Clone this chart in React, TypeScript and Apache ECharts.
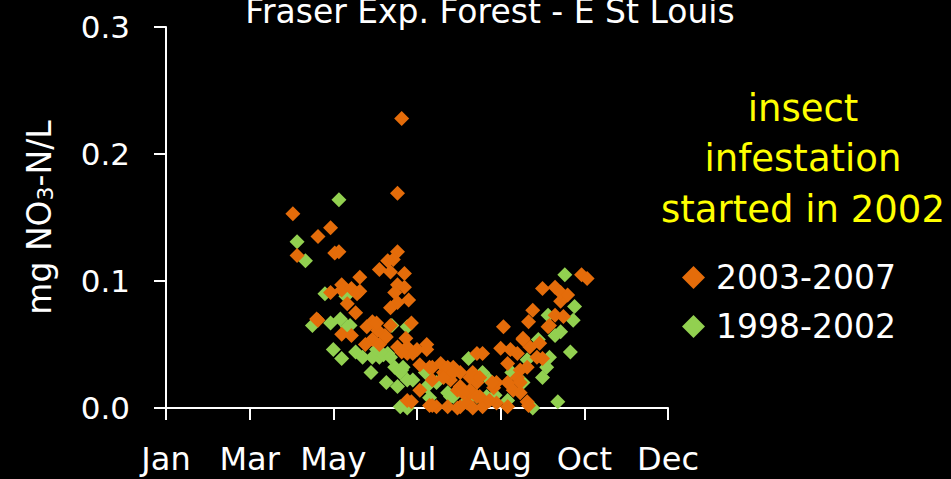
import React, { useEffect, useRef } from "react";
import * as echarts from "echarts";

// Day of year (x) and mg NO3-N/L (y)
const series2003_2007: [number, number][] = [
  [91, 0.153], [94, 0.12], [109, 0.135], [118, 0.142], [121, 0.122], [124, 0.123], [109, 0.069],
  [169, 0.228], [166, 0.169], [166, 0.123], [163, 0.117], [159, 0.116], [153, 0.109], [161, 0.107],
  [171, 0.106], [139, 0.103], [126, 0.097], [126, 0.093], [118, 0.091], [133, 0.094], [137, 0.09],
  [139, 0.092], [166, 0.097], [171, 0.095], [164, 0.091], [174, 0.085], [166, 0.083], [161, 0.079],
  [130, 0.082], [136, 0.075], [108, 0.07], [126, 0.058], [133, 0.057], [144, 0.064], [148, 0.068],
  [152, 0.061], [157, 0.057], [161, 0.065], [148, 0.054], [153, 0.05], [143, 0.05], [151, 0.067],
  [158, 0.056], [176, 0.067], [172, 0.055], [173, 0.043], [180, 0.046], [187, 0.046], [182, 0.034],
  [191, 0.032], [199, 0.028], [206, 0.032], [211, 0.028], [223, 0.043], [220, 0.028], [176, 0.005],
  [173, 0.006], [189, 0.002], [194, 0.001], [202, 0.001], [209, 0.0], [216, 0.004], [220, 0.0],
  [211, 0.017], [218, 0.014], [223, 0.02], [204, 0.022], [182, 0.014], [199, 0.024], [191, 0.002],
  [211, 0.001], [227, 0.001], [237, 0.004], [245, 0.001], [191, 0.022], [209, 0.014], [218, 0.012],
  [225, 0.009], [235, 0.016], [189, 0.032], [197, 0.035], [204, 0.03], [218, 0.024], [173, 0.048],
  [187, 0.05], [177, 0.043], [225, 0.024], [263, 0.077], [283, 0.084], [279, 0.073], [285, 0.072],
  [275, 0.065], [260, 0.068], [242, 0.064], [256, 0.055], [261, 0.048], [268, 0.051], [266, 0.04],
  [270, 0.039], [240, 0.047], [247, 0.046], [252, 0.043], [227, 0.043], [245, 0.035], [254, 0.03],
  [259, 0.032], [237, 0.02], [245, 0.02], [249, 0.014], [254, 0.012], [259, 0.005], [298, 0.105],
  [302, 0.102], [270, 0.094], [279, 0.095], [283, 0.091], [288, 0.089], [274, 0.064], [256, 0.054],
  [252, 0.024], [254, 0.02], [232, 0.006], [223, 0.009], [213, 0.012], [234, 0.02], [260, 0.002],
  [202, 0.032], [206, 0.028], [166, 0.048], [169, 0.044],
];

const series1998_2002: [number, number][] = [
  [124, 0.164], [94, 0.131], [100, 0.116], [114, 0.09], [129, 0.088], [105, 0.065], [118, 0.067],
  [125, 0.07], [130, 0.064], [132, 0.065], [126, 0.039], [136, 0.044], [141, 0.04], [148, 0.04],
  [153, 0.04], [159, 0.043], [147, 0.028], [164, 0.032], [168, 0.028], [158, 0.02], [166, 0.017],
  [168, 0.001], [173, 0.0], [162, 0.065], [173, 0.064], [151, 0.046], [156, 0.042], [161, 0.04],
  [169, 0.03], [177, 0.022], [187, 0.017], [194, 0.02], [202, 0.012], [206, 0.009], [223, 0.009],
  [217, 0.039], [293, 0.08], [292, 0.069], [283, 0.06], [290, 0.044], [273, 0.032], [270, 0.024],
  [227, 0.028], [232, 0.022], [256, 0.02], [263, 0.0], [281, 0.005], [286, 0.105], [274, 0.073],
  [275, 0.04], [170, 0.032], [173, 0.022], [189, 0.008], [204, 0.009], [216, 0.006], [230, 0.009],
  [245, 0.006], [120, 0.046], [200, 0.026], [186, 0.028], [236, 0.01], [248, 0.028], [259, 0.038],
  [267, 0.054], [279, 0.057],
];

const monthTickLabels = ["Jan", "Mar", "May", "Jul", "Aug", "Oct", "Dec"];
const seriesNames = ["2003-2007", "1998-2002"];
const titleText = "Fraser Exp. Forest - E St Louis";
const noteLines = ["insect", "infestation", "started in 2002"];

const FONT = "DejaVu Sans";

export default function App() {
  const ref = useRef<HTMLDivElement>(null);
  useEffect(() => {
    if (!ref.current) return;
    const chart = echarts.init(ref.current, null, { renderer: "svg" });
    chart.setOption({
      animation: false,
      backgroundColor: "#000000",
      grid: { left: 166, right: 283, top: 27, bottom: 71 },
      xAxis: {
        type: "value",
        min: 0,
        max: 360,
        interval: 60,
        splitLine: { show: false },
        axisLine: { lineStyle: { color: "#ffffff", width: 2 } },
        axisTick: { length: 12, lineStyle: { color: "#ffffff", width: 2 } },
        axisLabel: {
          color: "#ffffff",
          fontSize: 32,
          fontFamily: FONT,
          margin: 35,
          formatter: (v: number) => monthTickLabels[Math.round(v / 60)] ?? "",
        },
      },
      yAxis: {
        type: "value",
        min: 0,
        max: 0.3,
        interval: 0.1,
        splitLine: { show: false },
        axisLine: { show: true, lineStyle: { color: "#ffffff", width: 2 } },
        axisTick: { show: true, length: 12, lineStyle: { color: "#ffffff", width: 2 } },
        axisLabel: {
          color: "#ffffff",
          fontSize: 31,
          fontFamily: FONT,
          margin: 36,
          formatter: (v: number) => v.toFixed(1),
        },
        name: "mg NO{sub|3}-N/L",
        nameLocation: "middle",
        nameRotate: 90,
        nameGap: 110,
        nameTextStyle: {
          color: "#ffffff",
          fontSize: 33,
          fontFamily: FONT,
          lineHeight: 33,
          rich: {
            sub: { fontSize: 22, fontFamily: FONT, color: "#ffffff", verticalAlign: "bottom", lineHeight: 12 },
          },
        },
      },
      legend: {
        data: [seriesNames[0], seriesNames[1]],
        orient: "vertical",
        left: 682,
        top: 261,
        padding: 0,
        itemWidth: 23,
        itemHeight: 23,
        itemGap: 16,
        icon: "diamond",
        textStyle: { color: "#ffffff", fontSize: 33, fontFamily: FONT, padding: [0, 0, 0, 6] },
      },
      graphic: [
        {
          type: "text",
          x: 490,
          y: 11,
          style: {
            text: titleText,
            fill: "#ffffff",
            fontSize: 33,
            fontFamily: FONT,
            align: "center",
            verticalAlign: "middle",
          },
        },
        ...noteLines.map((t, i) => ({
          type: "text",
          x: 803,
          y: [108, 158, 209][i],
          style: {
            text: t,
            fill: "#ffff00",
            fontSize: 37,
            fontFamily: FONT,
            align: "center",
            verticalAlign: "middle",
          },
        })),
      ],
      series: [
        {
          name: seriesNames[1],
          type: "scatter",
          symbol: "diamond",
          symbolSize: 15,
          itemStyle: { color: "#92D050", opacity: 1 },
          data: series1998_2002,
          z: 2,
        },
        {
          name: seriesNames[0],
          type: "scatter",
          symbol: "diamond",
          symbolSize: 15,
          itemStyle: { color: "#E46C0A", opacity: 1 },
          data: series2003_2007,
          z: 3,
        },
      ],
    });
    return () => chart.dispose();
  }, []);
  return <div ref={ref} style={{ position: "fixed", left: 0, top: 0, width: 951, height: 479 }} />;
}
